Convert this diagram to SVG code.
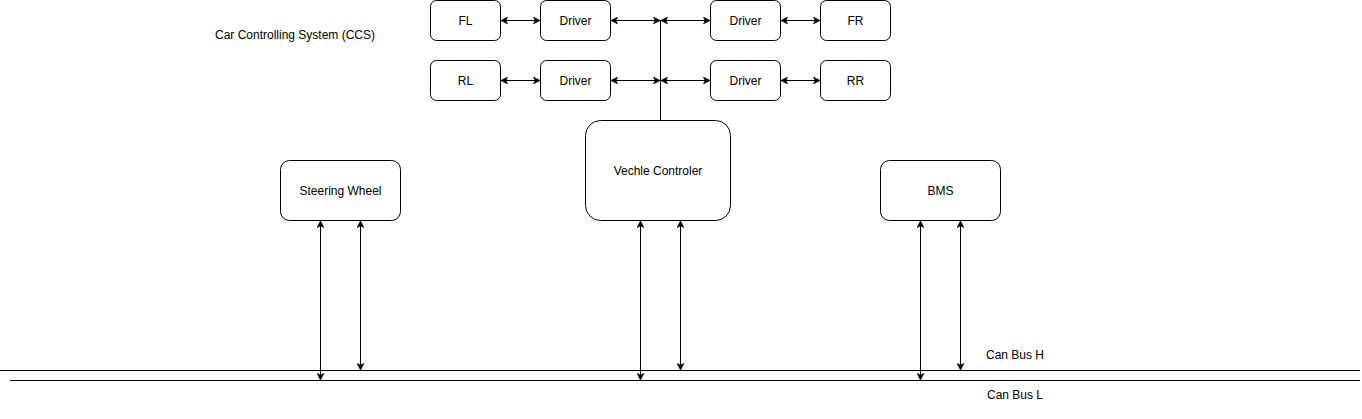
<svg xmlns="http://www.w3.org/2000/svg" width="1362" height="419" viewBox="0 0 1362 419">
<style>
.n rect{fill:#fff;stroke:#000;stroke-width:1}
text{font-family:"Liberation Sans",Arial,sans-serif;font-size:12px;fill:#000}
.n text{text-anchor:middle;dominant-baseline:central}
.c line{stroke:#000;stroke-width:1;fill:none}
.a{marker-start:url(#ah);marker-end:url(#ah)}
.b{marker-end:url(#ah)}
</style>
<defs>
<marker id="ah" viewBox="0 0 10 10" refX="9" refY="5" markerWidth="8" markerHeight="8" markerUnits="userSpaceOnUse" orient="auto-start-reverse">
<path d="M1,1 L9,5 L1,9 L3,5 Z" fill="#000" stroke="#000" stroke-width="1"/>
</marker>
</defs>
<rect width="1362" height="419" fill="#fff"/>
<text x="295" y="39" text-anchor="middle">Car Controlling System (CCS)</text>
<g id="FL" class="n"><rect x="430.5" y="0.5" width="70" height="40" rx="6"/><text x="465.5" y="20.5">FL</text></g>
<g id="DFL" class="n"><rect x="540.5" y="0.5" width="70" height="40" rx="6"/><text x="575.5" y="20.5">Driver</text></g>
<g id="DFR" class="n"><rect x="710.5" y="0.5" width="70" height="40" rx="6"/><text x="745.5" y="20.5">Driver</text></g>
<g id="FR" class="n"><rect x="820.5" y="0.5" width="70" height="40" rx="6"/><text x="855.5" y="20.5">FR</text></g>
<g id="RL" class="n"><rect x="430.5" y="60.5" width="70" height="40" rx="6"/><text x="465.5" y="80.5">RL</text></g>
<g id="DRL" class="n"><rect x="540.5" y="60.5" width="70" height="40" rx="6"/><text x="575.5" y="80.5">Driver</text></g>
<g id="DRR" class="n"><rect x="710.5" y="60.5" width="70" height="40" rx="6"/><text x="745.5" y="80.5">Driver</text></g>
<g id="RR" class="n"><rect x="820.5" y="60.5" width="70" height="40" rx="6"/><text x="855.5" y="80.5">RR</text></g>
<g id="VC" class="n"><rect x="585.5" y="120.5" width="145" height="100" rx="15"/><text x="658" y="170.5">Vechle Controler</text></g>
<g id="SW" class="n"><rect x="280.5" y="160.5" width="120" height="60" rx="9"/><text x="340.5" y="190.5">Steering Wheel</text></g>
<g id="BMS" class="n"><rect x="880.5" y="160.5" width="120" height="60" rx="9"/><text x="940.5" y="190.5">BMS</text></g>
<text x="1015" y="359" text-anchor="middle">Can Bus H</text>
<text x="1015" y="399" text-anchor="middle">Can Bus L</text>
<g id="connectors" class="c">
<line x1="0" y1="370.5" x2="1360" y2="370.5"/>
<line x1="10" y1="380.5" x2="1360" y2="380.5"/>
<line x1="660.5" y1="20" x2="660.5" y2="120.5"/>
<line class="a" x1="501" y1="20.5" x2="540" y2="20.5"/>
<line class="a" x1="611" y1="20.5" x2="660" y2="20.5"/>
<line class="a" x1="661" y1="20.5" x2="710" y2="20.5"/>
<line class="a" x1="781" y1="20.5" x2="820" y2="20.5"/>
<line class="a" x1="501" y1="80.5" x2="540" y2="80.5"/>
<line class="a" x1="611" y1="80.5" x2="660" y2="80.5"/>
<line class="a" x1="661" y1="80.5" x2="710" y2="80.5"/>
<line class="a" x1="781" y1="80.5" x2="820" y2="80.5"/>
<line class="a" x1="320.5" y1="221" x2="320.5" y2="380"/>
<line class="a" x1="360.5" y1="221" x2="360.5" y2="370"/>
<line class="a" x1="640.5" y1="221" x2="640.5" y2="380"/>
<line class="a" x1="680.5" y1="221" x2="680.5" y2="370"/>
<line class="a" x1="920.5" y1="221" x2="920.5" y2="380"/>
<line class="a" x1="960.5" y1="221" x2="960.5" y2="370"/>
</g>
</svg>
